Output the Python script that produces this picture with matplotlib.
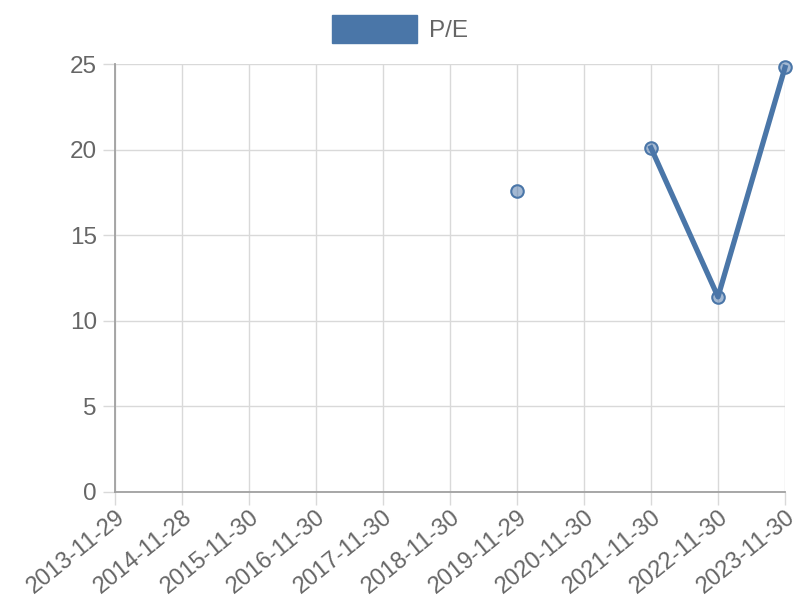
import matplotlib.pyplot as plt
import numpy as np
from matplotlib.patches import Patch

plt.rcParams['font.family'] = ['Liberation Sans', 'DejaVu Sans']

dates = ['2013-11-29', '2014-11-28', '2015-11-30', '2016-11-30', '2017-11-30',
         '2018-11-30', '2019-11-29', '2020-11-30', '2021-11-30', '2022-11-30',
         '2023-11-30']
pe = [np.nan, np.nan, np.nan, np.nan, np.nan, np.nan, 17.6, np.nan, 20.1, 11.4, 24.8]
yticks = [0, 5, 10, 15, 20, 25]

color = '#4a76a8'
grid_c = '#d9d9d9'
axis_c = '#a0a0a0'
text_c = '#666666'

fig = plt.figure(figsize=(8, 6), dpi=100)
ax = fig.add_axes([0.14375, 0.18, 0.8375, 0.7133])

x = np.arange(len(dates))
ax.plot(x, pe, color=color, linewidth=3.8, marker='o', markersize=9,
        markerfacecolor=(0.29, 0.46, 0.66, 0.5), markeredgecolor=color,
        markeredgewidth=1.5, zorder=3, clip_on=False)

ax.set_xlim(0, len(dates) - 1)
ax.set_ylim(0, 25)
ax.set_xticks(x)
ax.set_xticklabels(dates, rotation=39, ha='right', rotation_mode='anchor')
ax.set_yticks(yticks)

ax.grid(True, color=grid_c, linewidth=1)
ax.set_axisbelow(True)
ax.tick_params(axis='both', colors=grid_c, length=9, width=1, labelcolor=text_c,
               labelsize=17.5, pad=4)
ax.tick_params(axis='x', labelsize=17, pad=1)
for side in ['top', 'right']:
    ax.spines[side].set_visible(False)
for side in ['left', 'bottom']:
    ax.spines[side].set_color(axis_c)
    ax.spines[side].set_linewidth(1.3)

fig.legend(handles=[Patch(facecolor=color, edgecolor=color, label='P/E')],
           loc='upper center', bbox_to_anchor=(0.5, 1.012), frameon=False,
           fontsize=17.5, labelcolor=text_c, handlelength=3.5, handleheight=1.4,
           handletextpad=0.5)

fig.savefig('out.png', dpi=100)
